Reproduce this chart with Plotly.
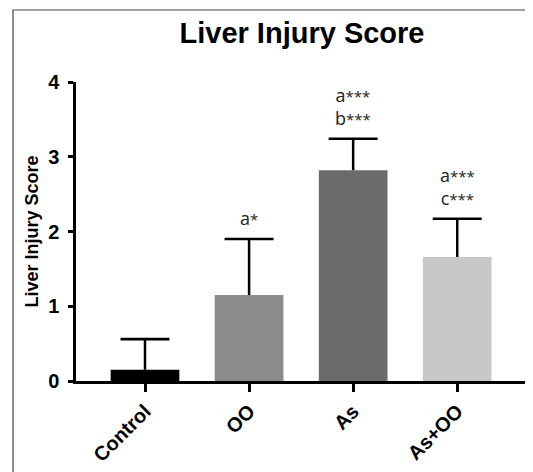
import plotly.graph_objects as go

categories = ["Control", "OO", "As", "As+OO"]
means = [0.15, 1.15, 2.82, 1.66]
errors = [0.41, 0.75, 0.42, 0.51]
colors = ["#000000", "#8c8c8c", "#6b6b6b", "#c8c8c8"]
sig_letters = [[], [("a", "*")], [("a", "***"), ("b", "***")],
               [("a", "***"), ("c", "***")]]
y_ticks = [0, 1, 2, 3, 4]

# page body has an 8px margin; figure is sized to fit the window
OFF = 8
W, H = 533 - OFF, 472 - OFF
ML, MR, MT, MB = 76 - OFF, 5, 82 - OFF, 91
pw = W - ML - MR
ph = H - MT - MB

ARIAL = "Liberation Sans, Arial, sans-serif"

fig = go.Figure()
fig.add_trace(go.Bar(
    x=categories, y=means,
    marker=dict(color=colors, line=dict(width=0)),
    width=0.66,
    error_y=dict(type="data", symmetric=False, array=errors,
                 arrayminus=[0] * len(errors), color="#000000",
                 thickness=2.5, width=0),
    cliponaxis=False,
))
fig.add_trace(go.Scatter(
    x=categories, y=[m + e for m, e in zip(means, errors)],
    mode="markers",
    marker=dict(symbol="line-ew", size=35, color="#000",
                line=dict(color="#000", width=2.6)),
    cliponaxis=False, hoverinfo="skip",
))

for c, m, e, lines in zip(categories, means, errors, sig_letters):
    if not lines:
        continue
    txt = "<br>".join(f"{letter}<span style='font-size:15px'>{stars}</span>"
                      for letter, stars in lines)
    fig.add_annotation(x=c, y=m + e, text=txt, showarrow=False,
                       yanchor="bottom", yshift=7,
                       font=dict(family="Open Sans, Liberation Sans, sans-serif",
                                 size=18, color="#222"))

fig.add_shape(type="rect", xref="paper", yref="paper",
              x0=(5 - ML) / pw, x1=(W + 20 - ML) / pw,
              y0=-(MB + 20) / ph, y1=(H - MB - 2) / ph,
              line=dict(color="#444", width=1.2), fillcolor="rgba(0,0,0,0)",
              layer="below")

fig.update_layout(
    width=W, height=H,
    margin=dict(l=ML, r=MR, t=MT, b=MB, autoexpand=False),
    paper_bgcolor="white", plot_bgcolor="white",
    showlegend=False,
    title=dict(text="<b>Liver Injury Score</b>", x=(302 - OFF - ML) / pw, xref="paper",
               xanchor="center", y=1 - (33 - OFF) / H, yanchor="middle",
               font=dict(family=ARIAL, size=29, color="#000")),
    font=dict(family=ARIAL, color="#000"),
)
fig.update_xaxes(
    range=[-0.663, 3.68], showline=True, linecolor="#000", linewidth=2.5,
    ticks="outside", ticklen=8, tickwidth=2.5, tickcolor="#000",
    tickangle=-45, tickfont=dict(size=20, family=ARIAL, weight="bold"),
    showgrid=False, zeroline=False,
)
fig.update_yaxes(
    range=[0, 4], tickvals=y_ticks, ticktext=[str(t) for t in y_ticks],
    showline=True, linecolor="#000", linewidth=2.5,
    ticks="outside", ticklen=5, tickwidth=2.5, tickcolor="#000",
    ticklabelstandoff=5,
    tickfont=dict(size=20, family=ARIAL, weight="bold"),
    title=dict(text="<b>Liver Injury Score</b>", font=dict(size=18), standoff=5),
    showgrid=False, zeroline=False,
)

fig.write_html("out.html")
